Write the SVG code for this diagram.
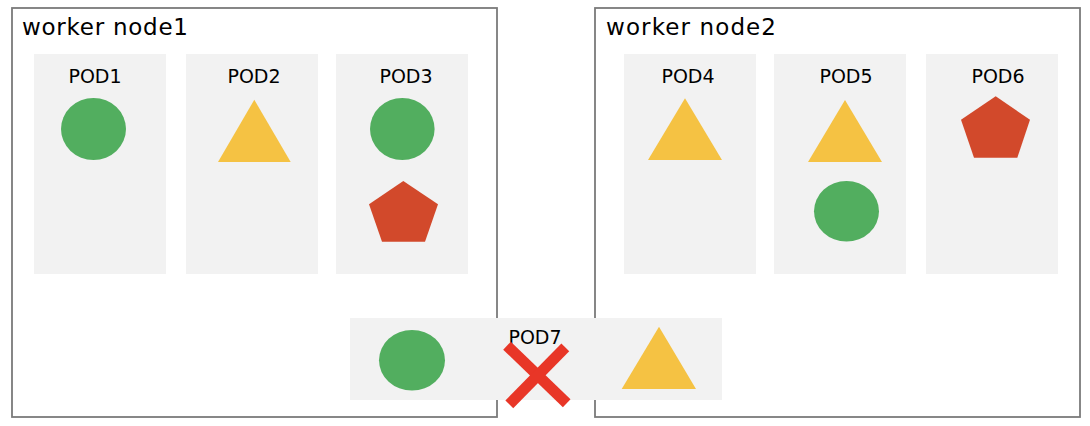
<svg xmlns="http://www.w3.org/2000/svg" width="1090" height="426" viewBox="0 0 1090 426">
<style>
.node{fill:#fff;stroke:#7a7a7a;stroke-width:1.8}
.pod{fill:#f2f2f2}
.nl{font-family:"DejaVu Sans",sans-serif;font-size:23px;fill:#000}
.pl{font-family:"DejaVu Sans",sans-serif;font-size:19px;fill:#000;text-anchor:middle}
.g{fill:#52ae5f}
.y{fill:#f5c243}
.r{fill:#d2492b}
.x{stroke:#e83627;stroke-width:11;fill:none}
</style>
<g id="worker-node1">
<rect class="node" x="12" y="8" width="485" height="409"/>
<text class="nl" x="22" y="35" textLength="166">worker node1</text>
</g>
<g id="worker-node2">
<rect class="node" x="595" y="8" width="485" height="409"/>
<text class="nl" x="606" y="35" textLength="170">worker node2</text>
</g>
<g id="pod1">
<rect class="pod" x="34" y="54" width="132" height="220"/>
<text class="pl" x="95" y="83">POD1</text>
<ellipse class="g" cx="93.5" cy="129" rx="32.5" ry="31"/>
</g>
<g id="pod2">
<rect class="pod" x="186" y="54" width="132" height="220"/>
<text class="pl" x="254" y="83">POD2</text>
<polygon class="y" points="254.3,99.7 290.7,162 218,162"/>
</g>
<g id="pod3">
<rect class="pod" x="336" y="54" width="132" height="220"/>
<text class="pl" x="406" y="83">POD3</text>
<ellipse class="g" cx="402.3" cy="129" rx="32.3" ry="31"/>
<polygon class="r" points="403.3,181 438,204.3 425,241.7 382,241.7 369,204.3"/>
</g>
<g id="pod4">
<rect class="pod" x="624" y="54" width="132" height="220"/>
<text class="pl" x="688" y="83">POD4</text>
<polygon class="y" points="685,98.3 722,160 648,160"/>
</g>
<g id="pod5">
<rect class="pod" x="774" y="54" width="132" height="220"/>
<text class="pl" x="846" y="83">POD5</text>
<polygon class="y" points="845,100 882,162 808,162"/>
<ellipse class="g" cx="846.5" cy="211.3" rx="32.5" ry="30.3"/>
</g>
<g id="pod6">
<rect class="pod" x="926" y="54" width="132" height="220"/>
<text class="pl" x="998" y="83">POD6</text>
<polygon class="r" points="995.7,96.3 1030,119.7 1017.3,157.7 974,157.7 961,119.7"/>
</g>
<g id="pod7">
<rect class="pod" x="350" y="318" width="372" height="82"/>
<text class="pl" x="535" y="344">POD7</text>
<ellipse class="g" cx="412" cy="360.3" rx="33" ry="30.3"/>
<polygon class="y" points="659,326.7 696,389 621.7,389"/>
</g>
<g id="connectors"></g>
<g id="fail-mark">
<line class="x" x1="507" y1="345.7" x2="566.7" y2="403.3"/>
<line class="x" x1="565.3" y1="347.3" x2="509.3" y2="404.3"/>
</g>
</svg>
